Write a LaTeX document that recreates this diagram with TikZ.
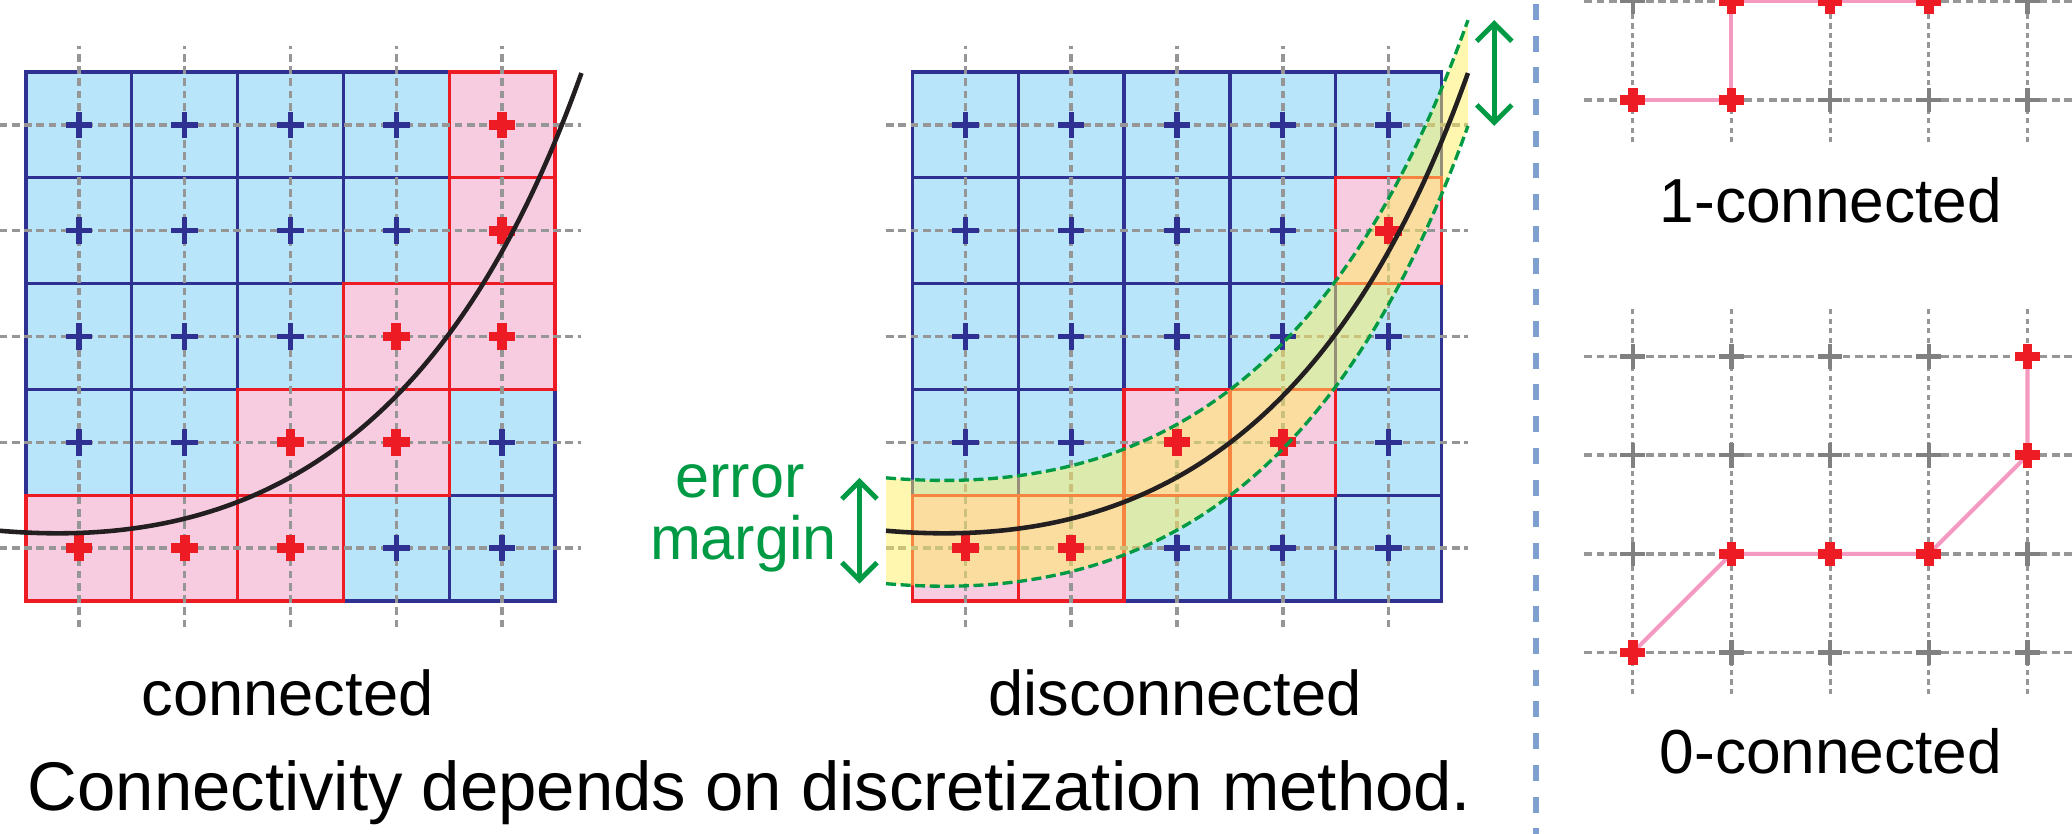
\documentclass[tikz,border=0pt]{standalone}
\usepackage{fontspec}
\setmainfont{Liberation Sans}
\usepackage{xcolor}
\usepackage{tikz}
\usetikzlibrary{arrows.meta,calc}
\definecolor{cellblue}{RGB}{185,229,250}
\definecolor{cellpink}{RGB}{248,204,224}
\definecolor{cellborder}{RGB}{46,49,146}
\definecolor{cellred}{RGB}{237,28,36}
\definecolor{gridgray}{RGB}{150,150,150}
\definecolor{crossgray}{RGB}{128,128,128}
\definecolor{pathpink}{RGB}{244,154,193}
\definecolor{margingreen}{RGB}{0,154,68}
\definecolor{bandyellow}{RGB}{255,239,97}
\definecolor{sepblue}{RGB}{127,159,208}
\definecolor{curveblack}{RGB}{35,31,32}

\begin{document}
\begin{tikzpicture}[
  every node/.style={inner sep=0pt, outer sep=0pt},
  bluecell/.style={fill=cellblue, draw=cellborder, line width=0.95pt},
  pinkcell/.style={fill=cellpink, draw=cellred, line width=0.95pt},
  gridline/.style={draw=gridgray, line width=1pt, dash pattern=on 2.2pt off 1.3pt},
  fineline/.style={draw=gridgray, line width=0.85pt, dash pattern=on 1.5pt off 1.2pt},
  bluecross/.style={draw=cellborder, line width=1.5pt},
  redcross/.style={draw=cellred, line width=2.75pt},
  graycross/.style={draw=crossgray, line width=1.2pt},
  pathline/.style={draw=pathpink, line width=1.15pt},
  curveline/.style={draw=curveblack, line width=1.3pt},
  band/.style={fill=bandyellow, fill opacity=0.5},
  margindash/.style={draw=margingreen, line width=0.95pt, dash pattern=on 2.85pt off 1.3pt},
  marginarrow/.style={draw=margingreen, line width=1.4pt, <->, >={Straight Barb[length=5pt,width=10pt]}},
  crossmark/.pic={\draw[pic actions] (-0.125,0) -- (0.125,0) (0,-0.125) -- (0,0.125);},
]

\useasboundingbox (0,0) rectangle (20.72,8.34);
\clip (0,0) rectangle (20.72,8.34);

%% Left grid: connected
\begin{scope}[shift={(0.26,2.33)}, x=1.058cm, y=1.058cm]
  \foreach \i in {0,...,4}
    \foreach \j in {0,...,4}
      \draw[bluecell] (\i,\j) rectangle ++(1,1);
  \foreach \i/\j in {4/4,4/3,3/2,4/2,2/1,3/1,0/0,1/0,2/0}
    \draw[pinkcell] (\i,\j) rectangle ++(1,1);
  \foreach \k in {0,...,4}{
    \draw[gridline] (-0.25,\k+0.5) -- (5.25,\k+0.5);
    \draw[gridline] (\k+0.5,-0.25) -- (\k+0.5,5.25);
  }
  \foreach \i in {0,...,4}
    \foreach \j in {0,...,4}
      \pic[bluecross] at (\i+0.5,\j+0.5) {crossmark};
  \foreach \i/\j in {4/4,4/3,3/2,4/2,2/1,3/1,0/0,1/0,2/0}
    \pic[redcross] at (\i+0.5,\j+0.5) {crossmark};
  \draw[curveline] (-0.25,0.664) .. controls (2.25,0.45) and (4.05,1.63) .. (5.25,4.99);
\end{scope}

%% Middle grid: disconnected, with error margin band
\begin{scope}[shift={(9.125,2.33)}, x=1.058cm, y=1.058cm]
  \foreach \i in {0,...,4}
    \foreach \j in {0,...,4}
      \draw[bluecell] (\i,\j) rectangle ++(1,1);
  \foreach \i/\j in {4/3,2/1,3/1,0/0,1/0}
    \draw[pinkcell] (\i,\j) rectangle ++(1,1);
  \foreach \k in {0,...,4}{
    \draw[gridline] (-0.25,\k+0.5) -- (5.25,\k+0.5);
    \draw[gridline] (\k+0.5,-0.25) -- (\k+0.5,5.25);
  }
  \coordinate (mtl) at (-0.25,1.164);
  \coordinate (mbl) at (-0.25,0.164);
  \coordinate (mtr) at (5.25,5.49);
  \coordinate (mbr) at (5.25,4.49);
  \fill[band] (mtl) .. controls (2.25,0.95) and (4.05,2.13) .. (mtr)
    -- (mbr) .. controls (4.05,1.13) and (2.25,-0.05) .. (mbl) -- cycle;
  \foreach \i in {0,...,4}
    \foreach \j in {0,...,4}
      \pic[bluecross] at (\i+0.5,\j+0.5) {crossmark};
  \foreach \i/\j in {4/3,2/1,3/1,0/0,1/0}
    \pic[redcross] at (\i+0.5,\j+0.5) {crossmark};
  \draw[curveline] (-0.25,0.664) .. controls (2.25,0.45) and (4.05,1.63) .. (5.25,4.99);
  \draw[margindash] (mtl) .. controls (2.25,0.95) and (4.05,2.13) .. (mtr);
  \draw[margindash] (mbl) .. controls (2.25,-0.05) and (4.05,1.13) .. (mbr);
\end{scope}

\draw[marginarrow] ([xshift=-2.66mm]mbl) -- ([xshift=-2.66mm]mtl);
\draw[marginarrow] ([xshift=2.63mm]mbr) -- ([xshift=2.63mm]mtr);
\node[anchor=base, margingreen, font=\fontsize{17.4pt}{20pt}\selectfont] (errtxt) at (7.40,3.367) {error};
\node[anchor=base, margingreen, font=\fontsize{17.4pt}{20pt}\selectfont] (margtxt) at (7.435,2.74) {margin};

%% Captions
\node[anchor=base, font=\fontsize{18pt}{21pt}\selectfont] (conn) at (2.875,1.183) {connected};
\node[anchor=base, font=\fontsize{18pt}{21pt}\selectfont] (disconn) at (11.75,1.183) {disconnected};
\node[anchor=base, font=\fontsize{19.6pt}{23pt}\selectfont] (summary) at (7.495,0.235) {Connectivity depends on discretization method.};

%% Separator
\draw[sepblue, line width=1.6pt, dash pattern=on 4.55pt off 4.47pt] (15.357,8.30) -- (15.357,0);

%% Right: 1-connected
\begin{scope}[shift={(16.327,7.34)}, x=0.987cm, y=0.987cm]
  \foreach \j in {0,1}
    \draw[gridline] (-0.49,\j) -- (4.6,\j);
  \foreach \i in {0,...,4}
    \draw[fineline] (\i,-0.43) -- (\i,1.5);
  \foreach \n/\i/\j in {a/0/0, b/1/0, c/1/1, d/2/1, e/3/1}
    \coordinate (one\n) at (\i,\j);
  \draw[pathline] (onea) -- (oneb) -- (onec) -- (oned) -- (onee);
  \foreach \i/\j in {0/1,4/1,2/0,3/0,4/0}
    \pic[graycross] at (\i,\j) {crossmark};
  \foreach \n in {a,b,c,d,e}
    \pic[redcross] at (one\n) {crossmark};
\end{scope}
\node[anchor=base, font=\fontsize{17.7pt}{21pt}\selectfont] (onelab) at (18.31,6.117) {1-connected};

%% Right: 0-connected
\begin{scope}[shift={(16.327,1.814)}, x=0.987cm, y=0.987cm]
  \foreach \j in {0,...,3}
    \draw[gridline] (-0.49,\j) -- (4.6,\j);
  \foreach \i in {0,...,4}
    \draw[fineline] (\i,-0.42) -- (\i,3.49);
  \foreach \n/\i/\j in {a/0/0, b/1/1, c/2/1, d/3/1, e/4/2, f/4/3}
    \coordinate (zero\n) at (\i,\j);
  \draw[pathline] (zeroa) -- (zerob) -- (zeroc) -- (zerod) -- (zeroe) -- (zerof);
  \foreach \i/\j in {1/0,2/0,3/0,4/0,0/1,4/1,0/2,1/2,2/2,3/2,0/3,1/3,2/3,3/3}
    \pic[graycross] at (\i,\j) {crossmark};
  \foreach \n in {a,b,c,d,e,f}
    \pic[redcross] at (zero\n) {crossmark};
\end{scope}
\node[anchor=base, font=\fontsize{17.7pt}{21pt}\selectfont] (zerolab) at (18.31,0.60) {0-connected};

\end{tikzpicture}
\end{document}
